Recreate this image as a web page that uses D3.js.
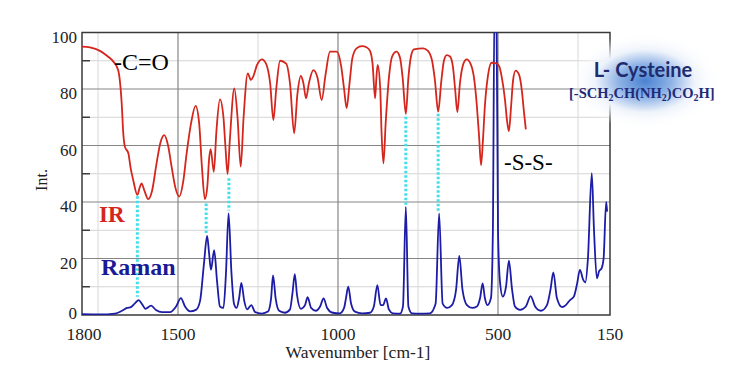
<!DOCTYPE html>
<html><head><meta charset="utf-8">
<script src="https://cdn.jsdelivr.net/npm/d3@7"></script>
<style>html,body{margin:0;padding:0;background:#fff;}svg{display:block;}</style>
</head><body>
<svg id="chart" width="736" height="372"></svg>
<script>
// ---------- data ----------
const xTickLabels = [1800, 1500, 1000, 500, 150];
const xGridMajor = [1500, 1000, 500];
const xGridMinor = [1750, 1250, 750, 250];
const yTickLabels = [0, 20, 40, 60, 80, 100];
const yGridMinor = [10, 30, 50, 70, 90];

const irWave = [1800,1775,1744,1719,1702,1687,1680,1676,1671,1666,1655,1648,1640,1627,1620,1614,1605,1593,1581,1567,1555,1543,1531,1520,1508,1496,1484,1473,1459,1445,1434,1425,1416,1408,1403,1398,1388,1380,1369,1358,1352,1345,1338,1324,1314,1304,1295,1282,1272,1265,1253,1238,1225,1212,1202,1193,1181,1162,1150,1137,1127,1116,1108,1100,1091,1077,1064,1051,1039,1025,1004,990,981,973,964,955,942,925,911,900,892,884,880,876,868,864,858,851,840,831,817,806,798,788,780,772,763,734,719,706,697,687,677,669,660,650,641,634,627,619,608,598,586,575,566,559,553,547,541,531,520,505,496,488,478,472,466,459,453,445,434,425,419,413];
const irVal = [95,94.7,93.5,91.5,89.7,86.7,81,75,64.3,59.6,57.2,52,47.8,42.5,45,46.6,44,41,44,53.7,61,63.7,60,52.5,45,41.9,47,57.2,68,74,68,52,41,46,55,58.7,50.7,65,76.3,70,60,49.9,62,80.2,70,52.5,70,85.5,83.2,84.4,88.5,90.5,89,82,69,80,90,89,82,64.3,78,84.6,82,76.7,82,86.7,84,76.1,85,93.2,93.2,88,80,73.2,82,91,94.4,95.2,94.8,93.5,89,76.7,84,88.5,80,65,53.7,68,85,91.5,93.2,91,84,71.2,84,91.5,94,94.4,93.5,90,83,72,83,90,92,91.5,88,80,71.8,82,89,90.5,89,84,74,63,53.1,62,74,85,89.3,89.1,88,84,76,69,65.1,74,83,86.5,85,79,72,65.7];

const ramanWave = [1800,1744,1697,1675,1659,1647,1634,1623,1612,1602,1584,1569,1550,1525,1506,1491,1478,1462,1444,1431,1419,1409,1403,1397,1387,1378,1369,1358,1350,1342,1333,1325,1317,1309,1302,1293,1284,1271,1259,1238,1219,1209,1203,1195,1184,1166,1150,1142,1135,1128,1116,1103,1095,1084,1069,1056,1045,1034,1016,994,981,975,968,959,947,925,900,888,877,867,859,850,841,828,806,797,788,780,769,744,713,695,684,673,659,644,631,621,611,597,581,566,556,548,541,533,522,516,511,505,500,494,485,475,466,456,447,431,413,398,384,366,347,336,327,316,300,288,275,263,253,244,234,227,219,207,200,191,184,176,170,162,159];
const ramanVal = [0.3,0.2,0.5,1.5,2.5,2.8,4.2,5.3,3.8,2.2,3.3,1.8,1,1,3,6,3,1.3,1.8,5,18,28,22,16,23,12,3,2.5,15,36,15,4,2.5,6,11.4,5,2,3.5,1,0.5,1.2,6,14,6,1.5,0.8,2,8,14.5,7,2.2,3.5,6.3,2.5,1.5,3,5.9,2.5,0.8,0.6,2.5,6,10,4,1.2,0.6,0.8,3,10.6,3.5,3.5,5.9,2,0.6,0.5,3,38.3,3,0.6,0.5,0.6,4,36,4,2.5,3.5,9,20.9,9,3.5,2.5,3,6,11.2,6,3.5,6,30,110,110,30,12,6.5,10,19.2,9,3,1.8,3,6.7,3,1.5,3.5,9,15.1,6,2.8,3.5,5.3,6.5,11,16,12.5,11.5,20,50.2,30,13,15.5,16.6,20,40,36.6];

// cyan correlation markers
const linkWave = [1627, 1412, 1341, 788, 687];
const linkIR = [42, 39.5, 48.4, 70.2, 71.2];
const linkRaman = [6.5, 29, 37, 38.9, 36.6];

// ---------- layout ----------
const svg = d3.select('#chart');
const W = 736, H = 372;
const m = {left: 82, right: 610, top: 32.5, bottom: 315};
const x = d3.scaleLinear().domain([1800, 150]).range([m.left, m.right]);
const y = d3.scaleLinear().domain([0, 100]).range([m.bottom, m.top]);
const serif = '"Liberation Serif", "Times New Roman", serif';

svg.append('rect').attr('width', W).attr('height', H).attr('fill', '#fff');

// gridlines
const g = svg.append('g');
g.selectAll('.ymin').data(yGridMinor).join('line')
  .attr('x1', m.left).attr('x2', m.right)
  .attr('y1', d => y(d)).attr('y2', d => y(d))
  .attr('stroke', '#d4d4d4').attr('stroke-width', 1);
g.selectAll('.xmin').data(xGridMinor).join('line')
  .attr('y1', m.top).attr('y2', m.bottom)
  .attr('x1', d => x(d)).attr('x2', d => x(d))
  .attr('stroke', '#d8d8d8').attr('stroke-width', 1);
g.selectAll('.ymaj').data(yTickLabels.filter(v => v > 0 && v < 100)).join('line')
  .attr('x1', m.left).attr('x2', m.right)
  .attr('y1', d => y(d)).attr('y2', d => y(d))
  .attr('stroke', '#858585').attr('stroke-width', 1.2);
g.selectAll('.xmaj').data(xGridMajor).join('line')
  .attr('y1', m.top).attr('y2', m.bottom)
  .attr('x1', d => x(d)).attr('x2', d => x(d))
  .attr('stroke', '#858585').attr('stroke-width', 1.2);
// minor tick marks on left axis
g.selectAll('.ytk').data(yGridMinor).join('line')
  .attr('x1', m.left).attr('x2', m.left + 8)
  .attr('y1', d => y(d)).attr('y2', d => y(d))
  .attr('stroke', '#333').attr('stroke-width', 1.4);

// frame
svg.append('rect').attr('x', m.left).attr('y', m.top)
  .attr('width', m.right - m.left).attr('height', m.bottom - m.top)
  .attr('fill', 'none').attr('stroke', '#3a3a3a').attr('stroke-width', 1.5);

// clip
svg.append('clipPath').attr('id', 'clip').append('rect')
  .attr('x', m.left).attr('y', m.top).attr('width', m.right - m.left).attr('height', m.bottom - m.top);

const lineGen = d3.line().x(d => x(d[0])).y(d => y(d[1])).curve(d3.curveMonotoneX);

const irData = irWave.map((w, i) => [w, irVal[i]]);
const ramanData = ramanWave.map((w, i) => [w, ramanVal[i]]);

const plot = svg.append('g').attr('clip-path', 'url(#clip)');
plot.append('path').datum(ramanData).attr('d', lineGen)
  .attr('fill', 'none').attr('stroke', '#1c1ca6').attr('stroke-width', 1.8);
plot.append('path').datum(irData).attr('d', lineGen)
  .attr('fill', 'none').attr('stroke', '#d4261c').attr('stroke-width', 1.8);

// cyan dotted links
svg.append('g').selectAll('line').data(linkWave).join('line')
  .attr('x1', d => x(d)).attr('x2', d => x(d))
  .attr('y1', (d, i) => y(linkIR[i])).attr('y2', (d, i) => y(linkRaman[i]))
  .attr('stroke', '#3fe0ea').attr('stroke-width', 3).attr('stroke-dasharray', '2.5,2');

// axes labels
svg.append('g').selectAll('text').data(yTickLabels).join('text')
  .attr('x', 77).attr('y', d => d === 0 ? y(d) + 4 : y(d) + 10)
  .attr('text-anchor', 'end').attr('font-family', serif).attr('font-size', 17).attr('fill', '#222')
  .text(d => d);
svg.append('g').selectAll('text').data(xTickLabels).join('text')
  .attr('x', d => x(d) + (d === 1800 ? 2 : 0)).attr('y', 339.5)
  .attr('text-anchor', 'middle').attr('font-family', serif).attr('font-size', 17.5).attr('fill', '#222')
  .text(d => d);
svg.append('text').attr('x', 358).attr('y', 358).attr('text-anchor', 'middle')
  .attr('font-family', serif).attr('font-size', 17.5).attr('fill', '#222').text('Wavenumber [cm-1]');
svg.append('text').attr('transform', 'translate(47,180) rotate(-90)').attr('text-anchor', 'middle')
  .attr('font-family', serif).attr('font-size', 16).attr('fill', '#222').text('Int.');

// annotations
svg.append('text').attr('x', 114).attr('y', 70).attr('font-family', serif).attr('font-size', 24)
  .attr('fill', '#000').text('-C=O');
svg.append('text').attr('x', 99).attr('y', 222).attr('font-family', serif).attr('font-size', 23)
  .attr('font-weight', 'bold').attr('fill', '#d4261c').text('IR');
svg.append('text').attr('x', 101).attr('y', 275).attr('font-family', serif).attr('font-size', 24)
  .attr('font-weight', 'bold').attr('fill', '#1a1a96').text('Raman');
svg.append('text').attr('x', 504).attr('y', 170).attr('font-family', serif).attr('font-size', 23)
  .attr('fill', '#000').text('-S-S-');

// legend glow
const defs = svg.append('defs');
const rg = defs.append('radialGradient').attr('id', 'glow');
rg.append('stop').attr('offset', '0%').attr('stop-color', '#4b82d2').attr('stop-opacity', 1);
rg.append('stop').attr('offset', '35%').attr('stop-color', '#8fb3e6').attr('stop-opacity', 1);
rg.append('stop').attr('offset', '65%').attr('stop-color', '#eef3fb').attr('stop-opacity', 1);
rg.append('stop').attr('offset', '100%').attr('stop-color', '#ffffff').attr('stop-opacity', 0);
svg.append('ellipse').attr('cx', 645).attr('cy', 81).attr('rx', 76).attr('ry', 48).attr('fill', 'url(#glow)');

svg.append('text').attr('x', 643).attr('y', 77).attr('text-anchor', 'middle')
  .attr('font-family', 'Lato, "Open Sans", sans-serif').attr('font-weight', 'bold').attr('font-size', 20)
  .attr('fill', '#1e2b6e').text('L- Cysteine');

const formula = svg.append('text').attr('x', 569).attr('y', 98)
  .attr('font-family', serif).attr('font-weight', 'bold').attr('font-size', 14.5).attr('fill', '#1e2b7a');
const parts = [['[-SCH', 0], ['2', 1], ['CH(NH', 0], ['2', 1], [')CO', 0], ['2', 1], ['H]', 0]];
let prevSub = 0;
parts.forEach(([t, sub]) => {
  const ts = formula.append('tspan').text(t);
  if (sub) ts.attr('font-size', 10).attr('dy', 3);
  else if (prevSub) ts.attr('dy', -3);
  prevSub = sub;
});
</script>
</body></html>
